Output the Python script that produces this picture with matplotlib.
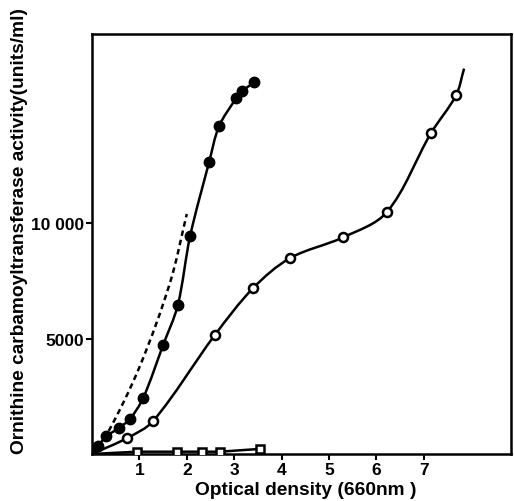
import numpy as np
import matplotlib
matplotlib.use('Agg')
import matplotlib.pyplot as plt
from matplotlib.path import Path
from matplotlib.patches import PathPatch

plt.rcParams['font.family'] = ['Liberation Sans', 'DejaVu Sans']

# === Data ===
# filled circles
od_filled = [0.12, 0.30, 0.57, 0.80, 1.08, 1.50, 1.81, 2.07, 2.47, 2.68, 3.04, 3.16, 3.42]
act_filled = [330, 760, 1130, 1520, 2430, 4720, 6450, 9440, 12640, 14200, 15410, 15710, 16100]

# open circles
od_open = [0.74, 1.29, 2.59, 3.40, 4.18, 5.30, 6.22, 7.15, 7.68]
act_open = [690, 1430, 5150, 7190, 8490, 9390, 10480, 13900, 15540]
open_end = (7.85, 16700)  # where the drawn curve stops

# open squares
od_sq = [0.95, 1.79, 2.32, 2.70, 3.54]
act_sq = [100, 100, 100, 100, 220]

# dashed curve (no markers)
od_dash = [0.0, 0.34, 1.01, 1.65, 2.0]
act_dash = [0, 950, 3810, 7450, 10400]

x_ticks = [1, 2, 3, 4, 5, 6, 7]
y_ticks = [5000, 10000]
y_ticklabels = ['5000', '10 000']

XMAX, YMAX = 8.84, 18200


def smooth_path(xs, ys):
    # chord-length catmull-rom, as bezier pieces (lengths measured in axes fractions)
    p = np.column_stack([xs, ys]).astype(float)
    q = p / [XMAX, YMAX]
    t = np.concatenate([[0], np.cumsum(np.hypot(*np.diff(q, axis=0).T))])
    n = len(p)
    tan = np.zeros_like(p)
    for k in range(n):
        a, b = max(k - 1, 0), min(k + 1, n - 1)
        tan[k] = (p[b] - p[a]) / (t[b] - t[a])
    verts = [p[0]]
    codes = [Path.MOVETO]
    for k in range(n - 1):
        dt = t[k + 1] - t[k]
        verts += [p[k] + tan[k] * dt / 3, p[k + 1] - tan[k + 1] * dt / 3, p[k + 1]]
        codes += [Path.CURVE4] * 3
    return Path(verts, codes)


fig = plt.figure(figsize=(5.14, 5.02), dpi=100)
ax = fig.add_axes([92 / 514, 47 / 502, 419 / 514, 420 / 502])

lw = 1.8
fx = [0] + od_filled
fy = [0] + act_filled
ax.add_patch(PathPatch(smooth_path(fx, fy), fill=False, lw=lw, ec='black', zorder=2))

ox = [0] + od_open + [open_end[0]]
oy = [0] + act_open + [open_end[1]]
ax.add_patch(PathPatch(smooth_path(ox, oy), fill=False, lw=lw, ec='black', zorder=2))

ax.add_patch(PathPatch(smooth_path(od_dash, act_dash), fill=False, lw=lw, ec='black',
                       ls=(0, (2.2, 1.6)), zorder=2))

ax.plot([0] + od_sq, [0] + act_sq, color='black', lw=lw, zorder=2)

ax.plot(od_filled, act_filled, 'o', ms=7.5, mfc='black', mec='black', zorder=3)
ax.plot(od_open, act_open, 'o', ms=6.5, mfc='white', mec='black', mew=1.8, zorder=3)
ax.plot(od_sq, act_sq, 's', ms=5.5, mfc='white', mec='black', mew=1.8, zorder=3)

ax.set_xlim(0, XMAX)
ax.set_ylim(0, YMAX)
ax.set_xticks(x_ticks)
ax.set_xticklabels([str(t) for t in x_ticks], fontsize=12.5, fontweight='bold')
ax.set_yticks(y_ticks)
ax.set_yticklabels(y_ticklabels, fontsize=12.5, fontweight='bold')
ax.tick_params(direction='out', length=4, width=1.5, pad=2)

for s in ax.spines.values():
    s.set_linewidth(1.8)

fig.text(306 / 514, 1 - 491 / 502, 'Optical density (660nm )', ha='center', va='center',
         fontsize=13.8, fontweight='bold')
fig.text(20 / 514, 1 - 231 / 502, 'Ornithine carbamoyltransferase activity(units/ml)',
         ha='center', va='center', rotation=90, fontsize=13.8, fontweight='bold')

fig.savefig('out.png', dpi=100)
